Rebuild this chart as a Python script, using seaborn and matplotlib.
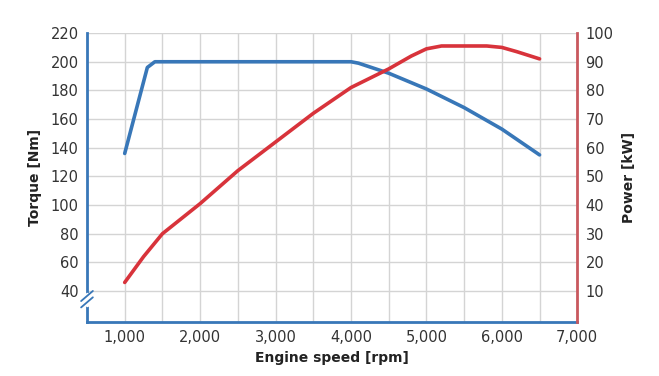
import numpy as np
import pandas as pd
import matplotlib
matplotlib.use("Agg")
import matplotlib.pyplot as plt
import seaborn as sns

# torque curve (left axis)
torque_rpm = [1000, 1300, 1400, 4000, 4100, 4500, 5000, 5500, 6000, 6500]
torque_nm = [136, 196, 200, 200, 199, 192, 181, 168, 153, 135]

# power curve (right axis)
power_rpm = [1000, 1250, 1500, 2000, 2500, 3000, 3500, 4000, 4500, 4800,
             5000, 5200, 5500, 5800, 6000, 6200, 6500]
power_kw = [13, 22, 30, 40.5, 52, 62, 72, 81, 87.5, 92,
            94.5, 95.5, 95.5, 95.5, 95, 93.5, 91]

x_ticks = list(range(1000, 7001, 1000))
torque_ticks = list(range(40, 221, 20))
power_ticks = list(range(10, 101, 10))

blue = "#3877b8"
red = "#d8333b"
grey_text = "#333333"

sns.set_style("white")
plt.rcParams['font.family'] = ['DejaVu Sans']

torque_df = pd.DataFrame({"rpm": torque_rpm, "torque": torque_nm})
power_df = pd.DataFrame({"rpm": power_rpm, "power": power_kw})

fig = plt.figure(figsize=(6.59, 3.76), dpi=100)
ax = fig.add_axes([0.132, 0.144, 0.744, 0.768])
ax2 = ax.twinx()

sns.lineplot(data=torque_df, x="rpm", y="torque", ax=ax, color=blue, lw=2.6, zorder=3)
sns.lineplot(data=power_df, x="rpm", y="power", ax=ax2, color=red, lw=2.6, zorder=3)

# torque 40..220 lines up with power 10..100
ax.set_xlim(500, 7000)
ax.set_ylim(18.5, 220)
ax2.set_ylim(18.5 / 2 - 10, 100)

grid_x = list(range(1000, 7001, 500))
ax.set_xticks(grid_x)
ax.set_xticklabels([f"{v:,}" if v in x_ticks else "" for v in grid_x])
ax.set_yticks(torque_ticks)
ax2.set_yticks(power_ticks)

ax.grid(True, color="#d4d4d4", lw=1)
ax.set_axisbelow(True)
ax.tick_params(length=0, labelsize=10.5, colors=grey_text, pad=6)
ax2.tick_params(length=0, labelsize=10.5, colors=grey_text, pad=6)

ax.set_xlabel("Engine speed [rpm]", fontsize=10, fontweight="bold", color="#222222", labelpad=4)
ax.set_ylabel("Torque [Nm]", fontsize=10, fontweight="bold", color="#222222", labelpad=6)
ax2.set_ylabel("Power [kW]", fontsize=10, fontweight="bold", color="#222222", labelpad=6)

for a in (ax, ax2):
    a.spines["top"].set_visible(False)
    a.spines["left"].set_visible(False)
    a.spines["right"].set_visible(False)
    a.spines["bottom"].set_visible(False)
ax.spines["left"].set_visible(True)
ax.spines["left"].set_color(blue)
ax.spines["left"].set_linewidth(2)
ax.spines["bottom"].set_visible(True)
ax.spines["bottom"].set_color(blue)
ax.spines["bottom"].set_linewidth(2)
ax2.spines["right"].set_visible(True)
ax2.spines["right"].set_color("#c9585e")
ax2.spines["right"].set_linewidth(2)

# axis break marks on the left spine
for dy in (0.0, 0.022):
    ax.plot([-0.012, 0.012], [0.05 + dy, 0.085 + dy], transform=ax.transAxes,
            color=blue, lw=1.3, clip_on=False, zorder=5)
ax.plot([0, 0], [0.06, 0.097], transform=ax.transAxes, color="white", lw=2.5,
        clip_on=False, zorder=4)

fig.savefig("out.png", dpi=100)
